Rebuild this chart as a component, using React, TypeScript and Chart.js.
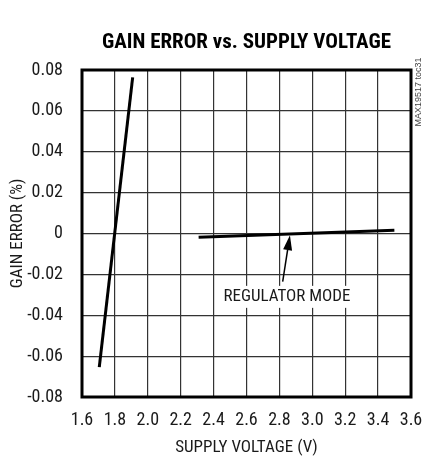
import React, { useEffect, useRef } from "react";
import { Chart, registerables } from "chart.js";

Chart.register(...registerables);

const TITLE = "GAIN ERROR vs. SUPPLY VOLTAGE";
const X_TITLE = "SUPPLY VOLTAGE (V)";
const Y_TITLE = "GAIN ERROR (%)";
const SIDE_NOTE = "MAX19517 toc31";

const X_MIN = 1.6;
const X_MAX = 3.6;
const X_STEP = 0.2;
const Y_MIN = -0.08;
const Y_MAX = 0.08;
const Y_STEP = 0.02;

// Unregulated supply curve
const lowSupplyX = [1.705, 1.908];
const lowSupplyY = [-0.0654, 0.0764];
// Regulator mode curve
const regSupplyX = [2.309, 3.499];
const regSupplyY = [-0.0018, 0.0016];

// Annotation
const ANNOT_TEXT = "REGULATOR MODE";
const annotTextPos = [2.846, -0.031];
const arrowTail = [2.82, -0.0235];
const arrowTip = [2.864, -0.0008];

const FONT = "'Liberation Sans Narrow', 'Arial Narrow', 'Roboto Condensed', 'Liberation Sans', sans-serif";

const toPts = (xs: number[], ys: number[]) => xs.map((x, i) => ({ x, y: ys[i] }));

const borderPlugin = {
  id: "areaBorder",
  afterDraw(chart: any) {
    const { ctx, chartArea } = chart;
    ctx.save();
    ctx.strokeStyle = "#000";
    ctx.lineWidth = 3;
    ctx.strokeRect(chartArea.left, chartArea.top, chartArea.right - chartArea.left, chartArea.bottom - chartArea.top);
    // title
    ctx.fillStyle = "#000";
    ctx.font = `bold 21px ${FONT}`;
    ctx.textAlign = "center";
    ctx.textBaseline = "middle";
    ctx.fillText(TITLE, (chartArea.left + chartArea.right) / 2, chartArea.top - 27);
    // side note
    ctx.translate(chartArea.right + 7.5, chartArea.top + 22);
    ctx.rotate(-Math.PI / 2);
    ctx.fillStyle = "#444";
    ctx.font = `9px 'Liberation Sans', sans-serif`;
    ctx.textAlign = "center";
    ctx.textBaseline = "middle";
    ctx.fillText(SIDE_NOTE, 0, 0);
    ctx.restore();
  },
};

const annotationPlugin = {
  id: "annotation",
  afterDatasetsDraw(chart: any) {
    const { ctx } = chart;
    const xs = chart.scales.x;
    const ys = chart.scales.y;
    ctx.save();
    ctx.font = `17px ${FONT}`;
    const tx = xs.getPixelForValue(annotTextPos[0]);
    const ty = ys.getPixelForValue(annotTextPos[1]);
    const w = ctx.measureText(ANNOT_TEXT).width;
    ctx.fillStyle = "#fff";
    ctx.fillRect(tx - w / 2 - 4, ty - 11, w + 8, 22);
    ctx.fillStyle = "#1a1a1a";
    ctx.textAlign = "center";
    ctx.textBaseline = "middle";
    ctx.fillText(ANNOT_TEXT, tx, ty);
    const ax0 = xs.getPixelForValue(arrowTail[0]);
    const ay0 = ys.getPixelForValue(arrowTail[1]);
    const ax1 = xs.getPixelForValue(arrowTip[0]);
    const ay1 = ys.getPixelForValue(arrowTip[1]);
    const ang = Math.atan2(ay1 - ay0, ax1 - ax0);
    const headLen = 15;
    const headW = 4.5;
    const bx = ax1 - headLen * Math.cos(ang);
    const by = ay1 - headLen * Math.sin(ang);
    ctx.strokeStyle = "#000";
    ctx.lineWidth = 1.5;
    ctx.beginPath();
    ctx.moveTo(ax0, ay0);
    ctx.lineTo(bx, by);
    ctx.stroke();
    ctx.fillStyle = "#000";
    ctx.beginPath();
    ctx.moveTo(ax1, ay1);
    ctx.lineTo(bx + headW * Math.sin(ang), by - headW * Math.cos(ang));
    ctx.lineTo(bx - headW * Math.sin(ang), by + headW * Math.cos(ang));
    ctx.closePath();
    ctx.fill();
    ctx.restore();
  },
};

export default function App() {
  const ref = useRef<HTMLCanvasElement>(null);
  useEffect(() => {
    if (!ref.current) return;
    const chart = new Chart(ref.current, {
      type: "scatter",
      data: {
        datasets: [
          {
            data: toPts(lowSupplyX, lowSupplyY),
            showLine: true,
            borderColor: "#000",
            borderWidth: 3,
            pointRadius: 0,
            fill: false,
          },
          {
            data: toPts(regSupplyX, regSupplyY),
            showLine: true,
            borderColor: "#000",
            borderWidth: 3,
            pointRadius: 0,
            fill: false,
          },
        ],
      },
      options: {
        responsive: false,
        animation: false,
        layout: { padding: { left: 0, right: 12, top: 70, bottom: 0 } },
        plugins: {
          legend: { display: false },
          tooltip: { enabled: false },
          title: { display: false },
        },
        scales: {
          x: {
            type: "linear",
            min: X_MIN,
            max: X_MAX,
            afterFit: (s: any) => {
              s.height = 63;
              s.paddingLeft = 0;
              s.paddingRight = 0;
            },
            ticks: {
              stepSize: X_STEP,
              color: "#1a1a1a",
              padding: 13,
              font: { family: FONT, size: 18 },
              callback: (v: any) => Number(v).toFixed(1),
            },
            grid: { color: "#333", lineWidth: 1.2, drawTicks: false },
            border: { display: false },
            title: {
              display: true,
              text: X_TITLE,
              color: "#1a1a1a",
              font: { family: FONT, size: 17, lineHeight: 1.2 },
              padding: { top: 0, bottom: 2 },
            },
          },
          y: {
            type: "linear",
            min: Y_MIN,
            max: Y_MAX,
            afterFit: (s: any) => {
              s.width = 82;
              s.paddingTop = 0;
              s.paddingBottom = 0;
            },
            ticks: {
              stepSize: Y_STEP,
              color: "#1a1a1a",
              padding: 19,
              font: { family: FONT, size: 18 },
              callback: (v: any) => (Math.abs(Number(v)) < 1e-9 ? "0" : Number(v).toFixed(2)),
            },
            grid: { color: "#333", lineWidth: 1.2, drawTicks: false },
            border: { display: false },
            title: {
              display: true,
              text: Y_TITLE,
              color: "#1a1a1a",
              font: { family: FONT, size: 17, lineHeight: 1.2 },
              padding: { top: 8, bottom: 0 },
            },
          },
        },
      },
      plugins: [annotationPlugin, borderPlugin],
    } as any);
    return () => chart.destroy();
  }, []);
  return (
    <div style={{ position: "absolute", left: 0, top: 0, width: 423, height: 460, background: "#fff" }}>
      <canvas ref={ref} width={423} height={460} style={{ display: "block" }} />
    </div>
  );
}
